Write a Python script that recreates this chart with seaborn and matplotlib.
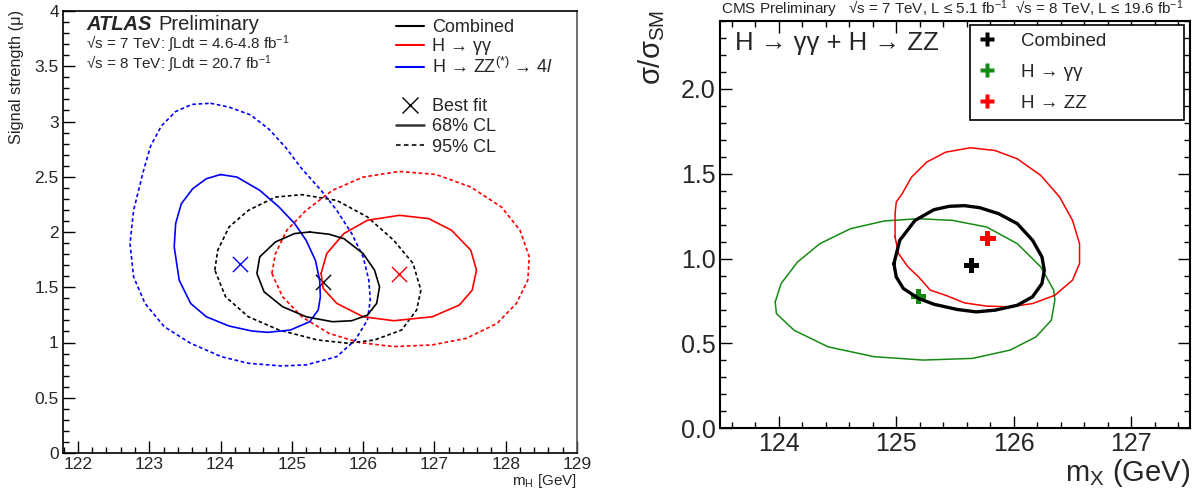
import numpy as np
import pandas as pd
import matplotlib
matplotlib.use("Agg")
import matplotlib.pyplot as plt
from matplotlib.lines import Line2D
from matplotlib.ticker import MultipleLocator
import seaborn as sns

# ---------------- ATLAS (left) data ----------------
blue68_m = [124.00, 124.23, 124.55, 124.82, 125.04, 125.20, 125.33, 125.39, 125.40, 125.37, 125.25,
            124.98, 124.66, 124.44, 124.12, 123.80, 123.58, 123.42, 123.35, 123.37, 123.45, 123.61, 123.80]
blue68_mu = [2.52, 2.497, 2.377, 2.226, 2.076, 1.925, 1.745, 1.564, 1.414, 1.294, 1.188,
             1.113, 1.092, 1.104, 1.149, 1.233, 1.354, 1.564, 1.865, 2.076, 2.256, 2.392, 2.482]

blue95_m = [123.86, 124.12, 124.42, 124.68, 124.92, 125.13, 125.41, 125.63, 125.84, 126.00, 126.08,
            126.10, 126.06, 125.89, 125.63, 125.20, 124.85, 124.39, 124.01, 123.58, 123.21, 122.94,
            122.78, 122.73, 122.78, 122.92, 123.02, 123.17, 123.37, 123.60]
blue95_mu = [3.165, 3.13, 3.06, 2.93, 2.76, 2.58, 2.377, 2.196, 1.986, 1.775, 1.564,
             1.384, 1.203, 1.023, 0.872, 0.797, 0.788, 0.812, 0.872, 0.993, 1.143, 1.354,
             1.594, 1.895, 2.196, 2.557, 2.78, 2.96, 3.09, 3.155]

black68_m = [125.25, 125.52, 125.73, 126.00, 126.16, 126.23, 126.19, 126.06, 125.84, 125.57, 125.20,
             124.87, 124.61, 124.51, 124.55, 124.77, 125.04]
black68_mu = [2.00, 1.98, 1.94, 1.805, 1.655, 1.504, 1.354, 1.248, 1.197, 1.188, 1.233,
              1.324, 1.459, 1.625, 1.775, 1.91, 1.986]

black95_m = [123.92, 123.96, 124.12, 124.39, 124.77, 125.14, 125.63, 126.06, 126.43, 126.70, 126.81,
             126.75, 126.54, 126.16, 125.79, 125.36, 124.82, 124.39, 124.07]
black95_mu = [1.655, 1.835, 2.046, 2.196, 2.316, 2.338, 2.286, 2.136, 1.925, 1.715, 1.474,
              1.294, 1.113, 1.023, 0.993, 1.023, 1.113, 1.233, 1.414]

red68_m = [125.41, 125.49, 125.73, 126.06, 126.51, 126.92, 127.24, 127.51, 127.59, 127.53, 127.35,
           126.97, 126.43, 126.00, 125.63, 125.44]
red68_mu = [1.625, 1.805, 1.986, 2.106, 2.151, 2.121, 2.016, 1.835, 1.655, 1.474, 1.339,
            1.233, 1.197, 1.233, 1.354, 1.489]

red95_m = [124.72, 124.77, 124.93, 125.20, 125.57, 126.00, 126.51, 127.02, 127.51, 127.94, 128.20,
           128.33, 128.31, 128.15, 127.88, 127.45, 126.97, 126.43, 125.95, 125.52, 125.14, 124.87]
red95_mu = [1.625, 1.805, 2.016, 2.196, 2.377, 2.497, 2.548, 2.521, 2.407, 2.226, 2.016,
            1.775, 1.564, 1.354, 1.173, 1.038, 0.978, 0.963, 0.999, 1.083, 1.233, 1.414]

atlas_best_m = [124.27, 125.44, 126.50]
atlas_best_mu = [1.709, 1.549, 1.619]
atlas_best_col = ["#0000ff", "#000000", "#ff0000"]

# ---------------- CMS (right) data ----------------
cms_comb_m = [124.98, 125.03, 125.16, 125.32, 125.45, 125.58, 125.71, 125.87, 126.03, 126.16, 126.24,
              126.26, 126.24, 126.16, 126.03, 125.84, 125.68, 125.52, 125.32, 125.19, 125.06, 125.00]
cms_comb_mu = [0.97, 1.108, 1.225, 1.288, 1.308, 1.312, 1.30, 1.265, 1.206, 1.108, 1.01,
               0.931, 0.853, 0.775, 0.725, 0.696, 0.686, 0.70, 0.731, 0.765, 0.824, 0.892]

cms_gg_m = [123.97, 124.02, 124.16, 124.35, 124.61, 124.90, 125.19, 125.48, 125.77, 126.03, 126.23,
            126.34, 126.35, 126.32, 126.19, 125.97, 125.65, 125.23, 124.81, 124.42, 124.13, 123.98]
cms_gg_mu = [0.745, 0.853, 0.98, 1.088, 1.176, 1.222, 1.235, 1.225, 1.186, 1.088, 0.951,
             0.814, 0.755, 0.637, 0.539, 0.461, 0.412, 0.402, 0.422, 0.48, 0.578, 0.676]

cms_zz_m = [124.99, 124.99, 125.00, 125.05, 125.13, 125.26, 125.42, 125.63, 125.84, 126.03, 126.23,
            126.39, 126.50, 126.56, 126.56, 126.50, 126.35, 126.16, 125.97, 125.77, 125.58, 125.42,
            125.29, 125.24, 125.19, 125.10, 125.02]
cms_zz_mu = [1.127, 1.265, 1.333, 1.382, 1.48, 1.569, 1.627, 1.653, 1.637, 1.588, 1.49,
             1.363, 1.225, 1.088, 0.971, 0.873, 0.784, 0.735, 0.716, 0.72, 0.739, 0.784,
             0.814, 0.853, 0.892, 0.951, 1.029]

cms_best_m = [125.64, 125.19, 125.78]
cms_best_mu = [0.961, 0.775, 1.118]
cms_labels = ["Combined", "H → γγ", "H → ZZ"]
cms_cols = ["#000000", "#158a15", "#ff0000"]

# ---------------- style ----------------
sns.set_theme(style="ticks")
FAM = ["Liberation Sans", "DejaVu Sans"]
plt.rcParams["font.family"] = FAM
plt.rcParams["mathtext.fontset"] = "custom"
plt.rcParams["mathtext.rm"] = "Liberation Sans"
plt.rcParams["mathtext.it"] = "Liberation Sans:italic"
plt.rcParams["mathtext.bf"] = "Liberation Sans:bold"
plt.rcParams["mathtext.default"] = "regular"

W, H = 1196, 488
fig = plt.figure(figsize=(W / 100, H / 100), dpi=100)
fig.patch.set_facecolor("white")


def fx(px):
    return px / W


def fy(py):
    return 1 - py / H


def closed(xs, ys):
    return np.append(xs, xs[0]), np.append(ys, ys[0])


def contour(ax, xs, ys, color, lw, ls="-"):
    cx, cy = closed(np.asarray(xs), np.asarray(ys))
    df = pd.DataFrame({"x": cx, "y": cy})
    sns.lineplot(data=df, x="x", y="y", sort=False, estimator=None, color=color,
                 linewidth=lw, linestyle=ls, ax=ax, legend=False)
    ax.lines[-1].set_solid_joinstyle("round")
    ax.lines[-1].set_dash_joinstyle("round")


DOT = (0, (2.2, 1.6))

# ---------------- left panel ----------------
ax1 = fig.add_axes([fx(63), fy(453), fx(577 - 63), (453 - 11) / H])
contour(ax1, blue95_m, blue95_mu, "#0000ff", 1.2, DOT)
contour(ax1, red95_m, red95_mu, "#ff0000", 1.2, DOT)
contour(ax1, black95_m, black95_mu, "#000000", 1.2, DOT)
contour(ax1, blue68_m, blue68_mu, "#0000ff", 1.2)
contour(ax1, red68_m, red68_mu, "#ff0000", 1.2)
contour(ax1, black68_m, black68_mu, "#000000", 1.2)
for m, mu, c in zip(atlas_best_m, atlas_best_mu, atlas_best_col):
    sns.scatterplot(x=[m], y=[mu], marker="x", s=120, color=c, linewidth=1.0, ax=ax1, legend=False)

ax1.set_xlim(121.79, 129.0)
ax1.set_ylim(0, 4)
ax1.xaxis.set_major_locator(MultipleLocator(1))
ax1.xaxis.set_minor_locator(MultipleLocator(0.2))
ax1.yaxis.set_major_locator(MultipleLocator(0.5))
ax1.yaxis.set_minor_locator(MultipleLocator(0.1))
ax1.tick_params(which="both", direction="in", width=1.0, labelsize=12.5, color="black")
ax1.tick_params(which="major", length=8.6)
ax1.tick_params(which="minor", length=4.3)
ax1.tick_params(axis="x", pad=3)
ax1.tick_params(axis="y", pad=3)
ax1.set_yticks([0, 0.5, 1, 1.5, 2, 2.5, 3, 3.5, 4])
ax1.set_yticklabels(["0", "0.5", "1", "1.5", "2", "2.5", "3", "3.5", "4"])
ax1.set_xlabel("")
ax1.set_ylabel("")
for sp in ax1.spines.values():
    sp.set_linewidth(1.2)
    sp.set_color("black")
ax1.spines["right"].set_color("#555555")

fig.text(fx(17), fy(10), "Signal strength (μ)", rotation=90, ha="center", va="top", fontsize=11.8)
fig.text(fx(577), fy(485), r"m$_{\rm H}$ [GeV]", ha="right", va="baseline", fontsize=11)

t_atlas = fig.text(fx(86), fy(25), "ATLAS", fontsize=14.5, fontweight="bold", fontstyle="italic",
                   va="center", ha="left")
ax1.annotate("Preliminary", xy=(1, 0), xycoords=t_atlas, xytext=(5, 0), textcoords="offset points",
             fontsize=14.5, va="bottom", ha="left")
fig.text(fx(86), fy(44), "√s = 7 TeV: ∫Ldt = 4.6-4.8 fb$^{-1}$", fontsize=11, va="center", ha="left")
fig.text(fx(86), fy(64), "√s = 8 TeV: ∫Ldt = 20.7 fb$^{-1}$", fontsize=11, va="center", ha="left")

h1 = [Line2D([], [], color="#000000", lw=1.5),
      Line2D([], [], color="#ff0000", lw=1.5),
      Line2D([], [], color="#0000ff", lw=1.5)]
l1 = ["Combined", "H → γγ", r"H → ZZ$^{(*)}$ → 4$\mathit{l}$"]
leg1 = ax1.legend(h1, l1, loc="upper left", bbox_to_anchor=((396 - 63) / 514, (453 - 19) / 442),
                  frameon=False, fontsize=13, handlelength=1.55, handletextpad=0.45,
                  borderpad=0, borderaxespad=0, labelspacing=0.12)
ax1.add_artist(leg1)
h2 = [Line2D([], [], color="black", marker="x", ls="none", markersize=11, mew=1.0),
      Line2D([], [], color="#333333", lw=1.8),
      Line2D([], [], color="#333333", lw=1.5, ls=DOT)]
l2 = ["Best fit", "68% CL", "95% CL"]
leg2 = ax1.legend(h2, l2, loc="upper left", bbox_to_anchor=((396 - 63) / 514, (453 - 98) / 442),
                  frameon=False, fontsize=13, handlelength=1.55, handletextpad=0.45,
                  borderpad=0, borderaxespad=0, labelspacing=0.18)

# ---------------- right panel ----------------
ax2 = fig.add_axes([fx(720), fy(428.3), fx(1190 - 720), (428.3 - 21) / H])
contour(ax2, cms_gg_m, cms_gg_mu, cms_cols[1], 1.1)
contour(ax2, cms_zz_m, cms_zz_mu, cms_cols[2], 1.1)
contour(ax2, cms_comb_m, cms_comb_mu, cms_cols[0], 2.4)
for m, mu, c in zip(cms_best_m, cms_best_mu, cms_cols):
    sns.scatterplot(x=[m], y=[mu], marker="P", s=120, color=c, edgecolor="none", ax=ax2, legend=False)

ax2.set_xlim(123.5, 127.5)
ax2.set_ylim(0, 2.4)
ax2.xaxis.set_major_locator(MultipleLocator(1))
ax2.xaxis.set_minor_locator(MultipleLocator(0.2))
ax2.yaxis.set_major_locator(MultipleLocator(0.5))
ax2.yaxis.set_minor_locator(MultipleLocator(0.1))
ax2.yaxis.set_major_formatter(matplotlib.ticker.FormatStrFormatter("%.1f"))
ax2.tick_params(which="both", direction="in", width=1.0, labelsize=18, top=True, right=True,
                color="black")
ax2.tick_params(which="major", length=8.6)
ax2.tick_params(which="minor", length=4.3)
ax2.tick_params(axis="x", pad=3)
ax2.tick_params(axis="y", pad=3)
ax2.set_xlabel("")
ax2.set_ylabel("")
for sp in ax2.spines.values():
    sp.set_linewidth(1.5)
    sp.set_color("black")

fig.text(fx(721), fy(9), "CMS Preliminary   √s = 7 TeV, L ≤ 5.1 fb$^{-1}$  √s = 8 TeV, L ≤ 19.6 fb$^{-1}$",
         fontsize=11, ha="left", va="center")
fig.text(fx(652), fy(10), r"σ/σ$_{\rm SM}$", rotation=90, ha="center", va="top", fontsize=21)
fig.text(fx(1190), fy(481), r"m$_{\rm X}$ (GeV)", ha="right", va="baseline", fontsize=21)
fig.text(fx(735), fy(43), "H → γγ + H → ZZ", ha="left", va="center", fontsize=18.5)

hc = [Line2D([], [], color=c, marker="P", ls="none", markersize=10.5, mec="none") for c in cms_cols]
leg3 = ax2.legend(hc, cms_labels, loc="upper left",
                  bbox_to_anchor=((970 - 720) / 470, (428.3 - 25) / 407.3, (1184 - 970) / 470, 0.0),
                  mode="expand", frameon=True, fontsize=13.5, handlelength=1.0, handletextpad=1.3,
                  borderpad=0.42, borderaxespad=0, labelspacing=0.74, fancybox=False)
leg3.get_frame().set_edgecolor("black")
leg3.get_frame().set_linewidth(1.2)
leg3.get_frame().set_alpha(1)

fig.savefig("out.png", dpi=100, facecolor="white")
